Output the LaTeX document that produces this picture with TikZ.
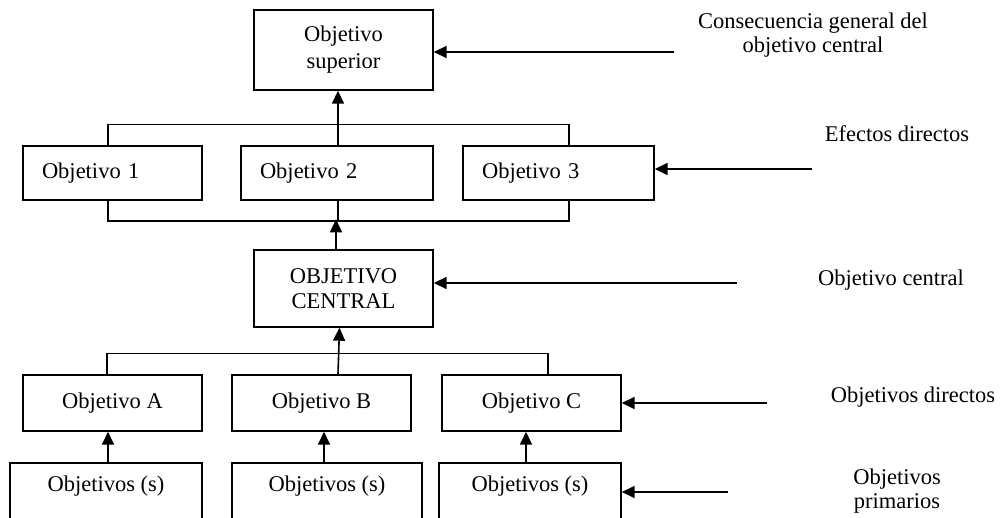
\documentclass[tikz,border=0pt]{standalone}
\usepackage{fontspec}
\setmainfont{Liberation Serif}
\usetikzlibrary{arrows.meta,calc}
\begin{document}
\begin{tikzpicture}[x=1pt,y=-1pt,
  box/.style={draw,line width=1.4pt,inner sep=0pt,align=center,font=\fontsize{22.5}{25}\selectfont},
  lbox/.style={box,align=left,inner xsep=19pt},
  lab/.style={align=center,font=\fontsize{22.5}{24.5}\selectfont,inner sep=0pt},
  ln/.style={line width=1.6pt},
  arr/.style={ln,-{Triangle[length=13pt,width=12pt]}}]
\useasboundingbox (0,0) rectangle (1001,517);
\clip (0,0) rectangle (1001,517);
\fill[white] (0,0) rectangle (1001,517);
% boxes
\node[box,minimum width=179,minimum height=80,font=\fontsize{22.5}{27}\selectfont] (sup) at (343.5,50) {Objetivo\\superior};
\node[lbox,text width=141,minimum height=54] (o1) at (112.5,173) {Objetivo 1};
\node[lbox,text width=154,minimum height=54] (o2) at (337,173) {Objetivo 2};
\node[lbox,text width=153,minimum height=54] (o3) at (558.5,173) {Objetivo 3};
\node[box,minimum width=179,minimum height=77] (cen) at (343.5,288.5) {OBJETIVO\\CENTRAL};
\node[box,minimum width=179,minimum height=56] (oA) at (112.5,403) {Objetivo A};
\node[box,minimum width=179,minimum height=56] (oB) at (321.5,403) {Objetivo B};
\node[box,minimum width=179,minimum height=56] (oC) at (531.5,403) {Objetivo C};
\node[box,minimum width=192,minimum height=80,text depth=38] (sA) at (106,503) {Objetivos (s)};
\node[box,minimum width=190,minimum height=80,text depth=38] (sB) at (327,503) {Objetivos (s)};
\node[box,minimum width=182,minimum height=80,text depth=38] (sC) at (530,503) {Objetivos (s)};
% labels
\node[lab] (l1) at (813,35) {Consecuencia general del\\objetivo central};
\node[lab] (l2) at (897,134) {Efectos directos};
\node[lab] (l3) at (891,280) {Objetivo central};
\node[lab] (l4) at (913,397) {Objetivos directos};
\node[lab] (l5) at (897,491) {Objetivos\\primarios};
\coordinate (c1) at (674,52);
\coordinate (c2) at (812,169);
\coordinate (c3) at (737,283);
\coordinate (c4) at (767,403);
\coordinate (c5) at (728,492);
% side arrows
\draw[arr] (c1) -- (c1 -| sup.east);
\draw[arr] (c2) -- (c2 -| o3.east);
\draw[arr] (c3) -- (c3 -| cen.east);
\draw[arr] (c4) -- (c4 -| oC.east);
\draw[arr] (c5) -- (c5 -| sC.east);
% top bracket
\draw[ln] ([xshift=-4.5pt]o1.north) -- ++(0,-21) -| ([xshift=10.5pt]o3.north);
\draw[arr] ([xshift=1pt]o2.north) -- ([xshift=1pt]o2.north |- sup.south);
% bottom bracket
\draw[ln] ([xshift=-4.5pt]o1.south) -- ++(0,20) -| ([xshift=10.5pt]o3.south);
\draw[ln] ([xshift=1pt]o2.south) -- ++(0,20);
\draw[arr] ([xshift=-7.5pt]cen.north) -- ++(0,-30);
% lower bracket
\draw[ln] ([xshift=-5.5pt]oA.north) -- ++(0,-21) -| ([xshift=16.5pt]oC.north);
\draw[arr] ([xshift=16.5pt]oB.north) -- ([xshift=-4pt]cen.south);
% primary arrows
\draw[arr] ([xshift=2pt]sA.north) -- ([xshift=2pt]sA.north |- oA.south);
\draw[arr] ([xshift=-3pt]sB.north) -- ([xshift=-3pt]sB.north |- oB.south);
\draw[arr] ([xshift=-4pt]sC.north) -- ([xshift=-4pt]sC.north |- oC.south);
\end{tikzpicture}
\end{document}
